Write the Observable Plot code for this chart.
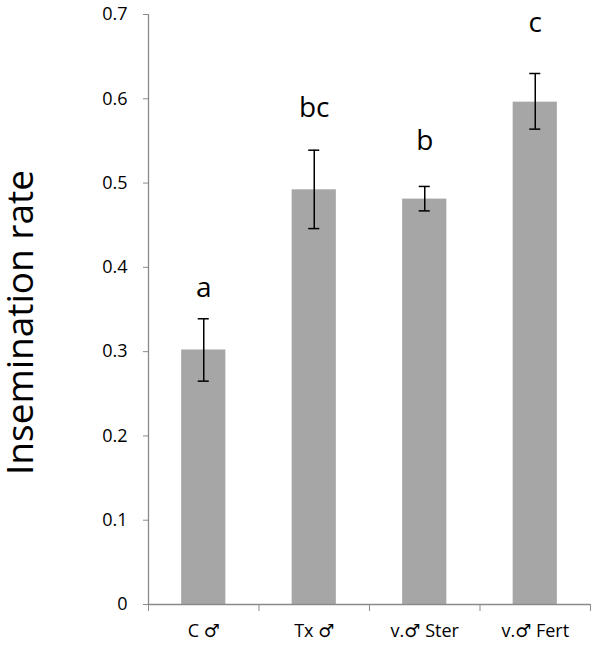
<!DOCTYPE html>
<html><head><meta charset="utf-8">
<script src="https://cdn.jsdelivr.net/npm/d3@7"></script>
<script src="https://cdn.jsdelivr.net/npm/@observablehq/plot@0.6"></script>
<style>body{margin:0;background:#fff}</style>
</head><body><div id="chart"></div>
<script>
const categories = ["C ♂", "Tx ♂", "v.♂ Ster", "v.♂ Fert"];
const rates = [0.302, 0.492, 0.481, 0.596];
const errLow = [0.265, 0.446, 0.467, 0.564];
const errHigh = [0.339, 0.539, 0.496, 0.630];
const sigLetters = ["a", "bc", "b", "c"];
const letterY = [0.365, 0.578, 0.539, 0.679];
const yTicks = [0, 0.1, 0.2, 0.3, 0.4, 0.5, 0.6, 0.7];

const data = categories.map((c, i) => ({i, c, rate: rates[i], lo: errLow[i], hi: errHigh[i], letter: sigLetters[i], ly: letterY[i]}));
const bounds = d3.range(categories.length + 1);
const centers = categories.map((c, i) => i + 0.5);
const axisColor = "#8a8a8a";
const font = "'Open Sans', 'DejaVu Sans', sans-serif";

const chart = Plot.plot({
  width: 600, height: 647,
  marginLeft: 148, marginRight: 10, marginTop: 14, marginBottom: 43,
  style: {fontFamily: font, background: "#fff", color: "#000"},
  x: {domain: [0, categories.length]},
  y: {domain: [0, 0.7]},
  marks: [
    Plot.rect(data, {x1: d => d.i + 0.3, x2: d => d.i + 0.7, y1: 0, y2: "rate", fill: "#a6a6a6"}),
    Plot.ruleX(data, {x: d => d.i + 0.5, y1: "lo", y2: "hi", stroke: "#000", strokeWidth: 1.5}),
    Plot.ruleY(data, {y: "hi", x1: d => d.i + 0.45, x2: d => d.i + 0.55, stroke: "#000", strokeWidth: 1.5}),
    Plot.ruleY(data, {y: "lo", x1: d => d.i + 0.45, x2: d => d.i + 0.55, stroke: "#000", strokeWidth: 1.5}),
    Plot.text(data, {x: d => d.i + 0.5, y: "ly", text: "letter", lineAnchor: "bottom", fontSize: 28, fill: "#000"}),
    Plot.ruleX([0], {y1: 0, y2: 0.7, stroke: axisColor, strokeWidth: 1.3}),
    Plot.ruleY([0], {x1: 0, x2: categories.length, stroke: axisColor, strokeWidth: 1.3}),
    Plot.axisY({ticks: yTicks, tickSize: 5, tickPadding: 16, stroke: axisColor, fontSize: 18, fill: "#000",
      tickFormat: d => d === 0 ? "0" : d.toFixed(1), label: null}),
    Plot.axisX({ticks: bounds, tickSize: 7, stroke: axisColor, tickFormat: () => "", label: null}),
    Plot.axisX({ticks: centers, tickSize: 0, tickPadding: 20, fontSize: 18, fill: "#000",
      tickFormat: d => categories[Math.floor(d)], label: null}),
    Plot.text(["Insemination rate"], {frameAnchor: "left", dx: -116, dy: 13, rotate: -90, textAnchor: "middle", lineAnchor: "bottom", fontSize: 37, fill: "#000"})
  ]
});
document.getElementById("chart").appendChild(chart);
</script>
</body></html>
